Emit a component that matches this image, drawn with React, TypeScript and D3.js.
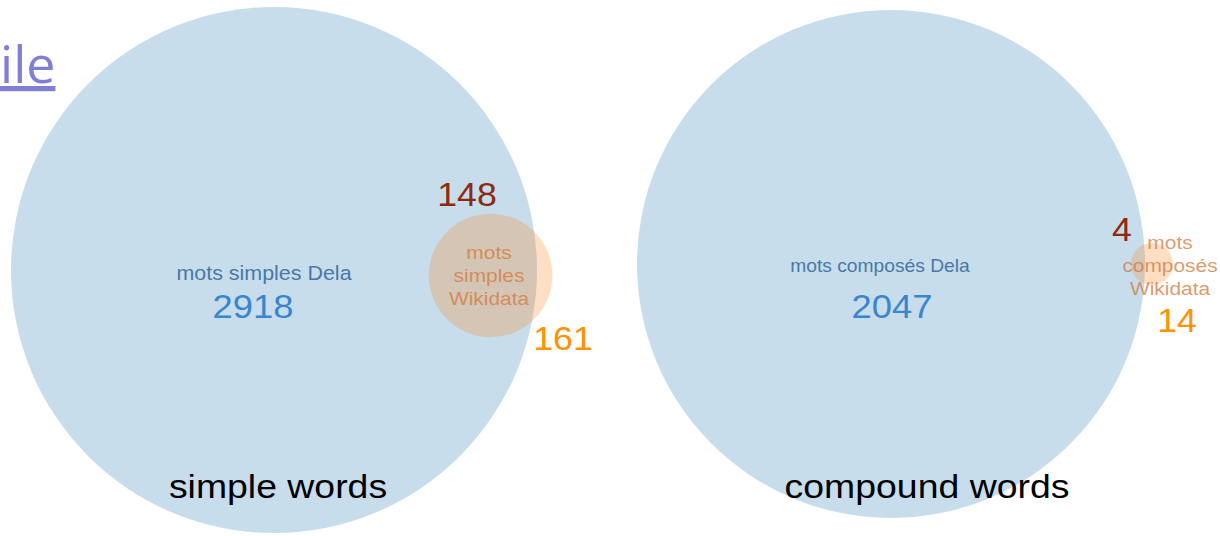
import * as d3 from 'd3'

// two venn panels: Dela dictionary vs Wikidata
const panelTitles = ['simple words', 'compound words']
const delaLabels = ['mots simples Dela', 'mots composés Dela']
const wikiLabels = [
  ['mots', 'simples', 'Wikidata'],
  ['mots', 'composés', 'Wikidata'],
]
const delaCounts = [2918, 2047]
const wikiCounts = [161, 14]
const overlapCounts = [148, 4]

const W = 1220
const H = 536
const SX = 1.1 // the screenshot text is a bit wide

const layout = [
  {
    cx: 274, cy: 270, R: 263, angle: 0.025,
    dela: { x: 264, y: 280, fs: 19.5 },
    num: { x: 253, y: 318 },
    ov: { x: 467, y: 206 },
    wiki: { x: 489, y: 259 },
    wnum: { x: 563, y: 350 },
    title: { x: 278, y: 498 },
  },
  {
    cx: 891, cy: 264, R: 254, angle: 0,
    dela: { x: 880, y: 272, fs: 17.5 },
    num: { x: 892, y: 318 },
    ov: { x: 1122, y: 241 },
    wiki: { x: 1170, y: 249 },
    wnum: { x: 1177, y: 332 },
    title: { x: 927, y: 498 },
  },
]

const blue = '#1f77b4'
const orange = '#ff7f0e'
const font = '"Liberation Sans", Arial, sans-serif'

function overlapArea(r1: number, r2: number, d: number) {
  if (d >= r1 + r2) return 0
  if (d <= Math.abs(r1 - r2)) return Math.PI * Math.min(r1, r2) ** 2
  const a = r1 * r1 * Math.acos((d * d + r1 * r1 - r2 * r2) / (2 * d * r1))
  const b = r2 * r2 * Math.acos((d * d + r2 * r2 - r1 * r1) / (2 * d * r2))
  const c = 0.5 * Math.sqrt((-d + r1 + r2) * (d + r1 - r2) * (d - r1 + r2) * (d + r1 + r2))
  return a + b - c
}

// distance between centres giving the wanted overlap area
function solveDistance(r1: number, r2: number, target: number) {
  let lo = Math.abs(r1 - r2)
  let hi = r1 + r2
  for (let i = 0; i < 60; i++) {
    const mid = (lo + hi) / 2
    if (overlapArea(r1, r2, mid) > target) lo = mid
    else hi = mid
  }
  return (lo + hi) / 2
}

function Label({ x, y, size, fill, children, opacity = 1, sx = SX }: any) {
  return (
    <text
      transform={`translate(${x},${y}) scale(${sx},1)`}
      textAnchor="middle"
      fontFamily={font}
      fontSize={size}
      fill={fill}
      fillOpacity={opacity}
    >
      {children}
    </text>
  )
}

export default function App() {
  const panels = layout.map((L, i) => {
    const r = d3.scaleSqrt().domain([0, delaCounts[i]]).range([0, L.R])
    const r1 = r(delaCounts[i])
    const r2 = r(wikiCounts[i])
    const unitArea = (Math.PI * L.R * L.R) / delaCounts[i]
    const d = solveDistance(r1, r2, overlapCounts[i] * unitArea)
    return {
      L,
      r1,
      r2,
      sx: L.cx + d * Math.cos(L.angle),
      sy: L.cy + d * Math.sin(L.angle),
    }
  })

  return (
    <svg
      width={W}
      height={H}
      style={{ position: 'absolute', left: 0, top: 0, background: '#fff' }}
    >
      <text
        x={0}
        y={83}
        fontFamily='"Open Sans", sans-serif'
        fontSize={52}
        fill="#7f7fd6"
        style={{ textDecoration: 'underline' }}
      >
        ile
      </text>

      {panels.map(({ L, r1, r2, sx, sy }, i) => (
        <g key={panelTitles[i]}>
          <circle cx={L.cx} cy={L.cy} r={r1} fill={blue} fillOpacity={0.25} />
          <circle cx={sx} cy={sy} r={r2} fill={orange} fillOpacity={0.25} />

          <Label x={L.dela.x} y={L.dela.y} size={L.dela.fs} fill="#4a78a6">
            {delaLabels[i]}
          </Label>
          <Label x={L.num.x} y={L.num.y} size={34} fill="#3a86cc" sx={1.07}>
            {delaCounts[i]}
          </Label>

          {wikiLabels[i].map((w, k) => (
            <Label
              key={w}
              x={L.wiki.x}
              y={L.wiki.y + k * 23}
              size={19}
              fill="#d2783c"
              opacity={0.75}
            >
              {w}
            </Label>
          ))}

          <Label x={L.ov.x} y={L.ov.y} size={34} fill="#8c2a10" sx={1.05}>
            {overlapCounts[i]}
          </Label>
          <Label x={L.wnum.x} y={L.wnum.y} size={34} fill="#ff9200" sx={1.05}>
            {wikiCounts[i]}
          </Label>

          <Label x={L.title.x} y={L.title.y} size={34} fill="#000">
            {panelTitles[i]}
          </Label>
        </g>
      ))}
    </svg>
  )
}
